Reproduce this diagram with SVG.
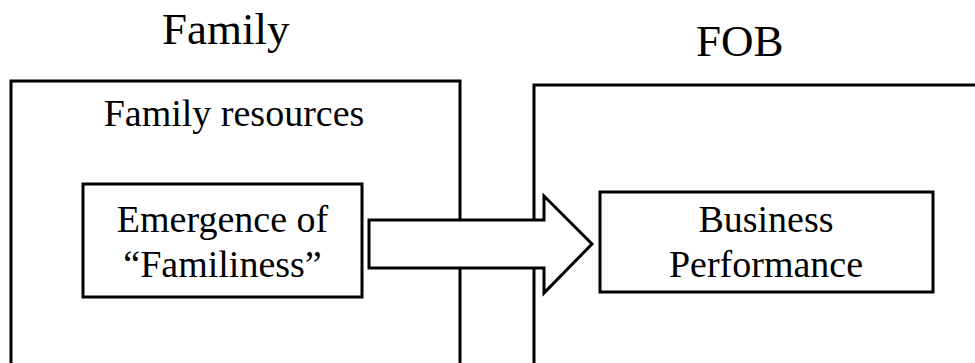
<svg xmlns="http://www.w3.org/2000/svg" width="975" height="363" viewBox="0 0 975 363">
<style>
text{font-family:'Liberation Serif','DejaVu Serif',serif;fill:#000}
.big{font-size:45px}
.mid{font-size:38px}
.frame{fill:none;stroke:#000;stroke-width:3}
.box{fill:#fff;stroke:#000;stroke-width:3}
</style>
<rect width="975" height="363" fill="#fff"/>
<g id="family" font-family="Liberation Serif">
<path class="frame" d="M11,370 V81 H460 V370"/>
<text class="big" x="162" y="44" font-family="Liberation Serif">Family</text>
<text class="mid" x="234" y="126" text-anchor="middle" font-family="Liberation Serif">Family resources</text>
</g>
<g id="fob">
<path class="frame" d="M534,370 V85 H980"/>
<text class="big" x="696" y="56" font-family="Liberation Serif">FOB</text>
</g>
<g id="familiness">
<rect class="box" x="83" y="184" width="279" height="113"/>
<text class="mid" x="222.5" y="232" text-anchor="middle" font-family="Liberation Serif">Emergence of</text>
<text class="mid" x="222.5" y="277" text-anchor="middle" font-family="Liberation Serif">“Familiness”</text>
</g>
<g id="performance">
<rect class="box" x="600" y="192" width="333" height="100"/>
<text class="mid" x="766" y="232" text-anchor="middle" font-family="Liberation Serif">Business</text>
<text class="mid" x="766" y="277" text-anchor="middle" font-family="Liberation Serif">Performance</text>
</g>
<g id="connectors">
<polygon class="box" points="369,220 544,220 544,196 592,244 544,293 544,268 369,268"/>
</g>
</svg>
